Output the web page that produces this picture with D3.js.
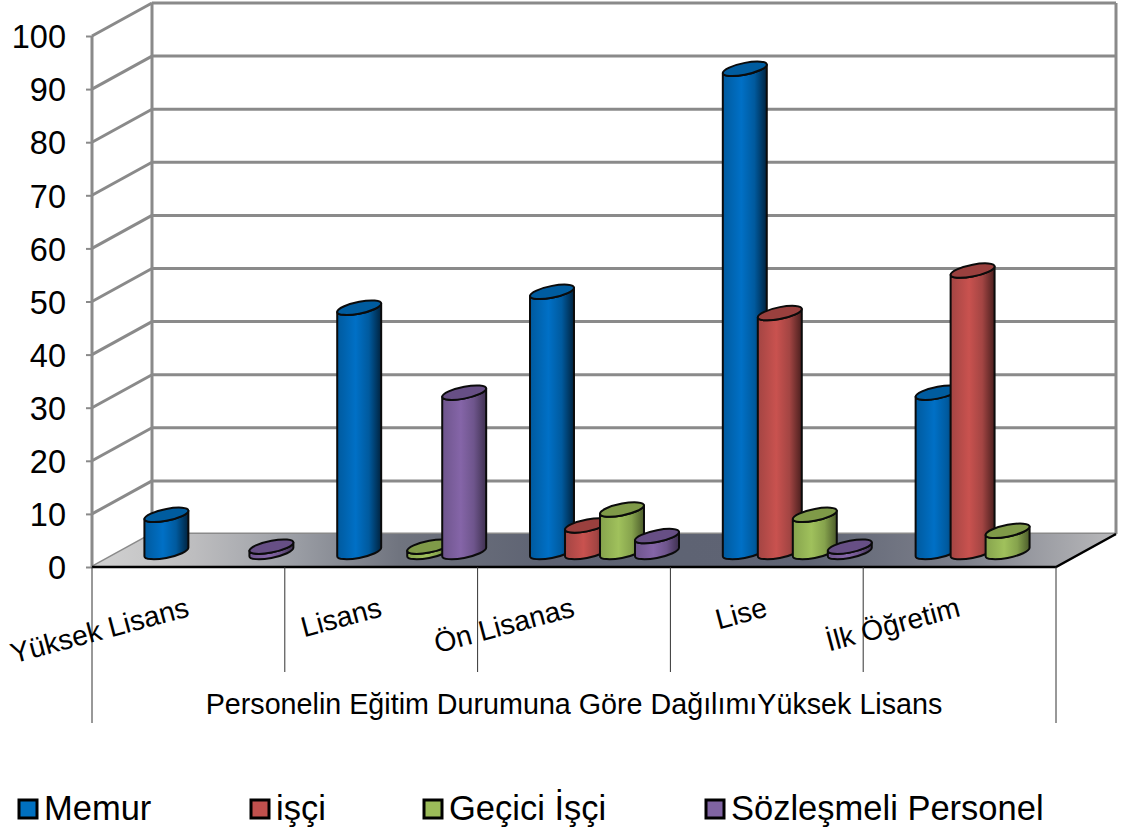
<!DOCTYPE html>
<html lang="tr">
<head>
<meta charset="utf-8">
<script src="https://cdn.jsdelivr.net/npm/d3@7"></script>
<style>
  html, body { margin: 0; padding: 0; background: #fff; }
  svg { display: block; }
  text { font-family: "Liberation Sans", Arial, sans-serif; fill: #000; }
</style>
</head>
<body>
<svg id="chart" width="1121" height="833"></svg>
<script>
// Education levels and staff groups
const categories = ["Yüksek Lisans", "Lisans", "Ön Lisanas", "Lise", "İlk Öğretim"];
const seriesNames = ["Memur", "işçi", "Geçici İşçi", "Sözleşmeli Personel"];
const memur = [7, 46, 49, 91, 30];
const isci = [0, 0, 5, 45, 53];
const gecici = [0, 1, 8, 7, 4];
const sozlesmeli = [1, 30, 3, 1, 0];
const seriesValues = [memur, isci, gecici, sozlesmeli];
const yTicks = [0, 10, 20, 30, 40, 50, 60, 70, 80, 90, 100];
const axisTitle = "Personelin Eğitim Durumuna Göre DağılımıYüksek Lisans";

const legendColors = ["#0070c0", "#c0504d", "#9bbb59", "#8064a2"];
const palettes = [
  { edge: "#005a9e", mid: "#0070c6", dark: "#00233f", top: "#005c9f" },
  { edge: "#a34543", mid: "#c9524f", dark: "#4a1f1e", top: "#9a403e" },
  { edge: "#86a34d", mid: "#a0c15c", dark: "#4c5c2b", top: "#7f9a48" },
  { edge: "#6e558c", mid: "#8565a8", dark: "#3f3150", top: "#674f85" }
];

// Chart frame: front plane, depth offset of the back wall
const left = 92, right = 1056, floorY = 567, topY = 36;
const depthX = 60, depthY = -33;

const svg = d3.select("#chart");
const x = d3.scaleBand().domain(categories).range([left, right]);
const y = d3.scaleLinear().domain([0, 100]).range([floorY, topY]);
const seriesX = d3.scaleBand().domain(seriesNames).range([-39.5, 100.5]);

const defs = svg.append("defs");
const floorGrad = defs.append("linearGradient").attr("id", "floor")
  .attr("gradientUnits", "userSpaceOnUse")
  .attr("x1", 92).attr("y1", 0).attr("x2", 1116).attr("y2", 0);
[[0, "#d2d2d2"], [0.1, "#bdbdbf"], [0.2, "#9a9da4"], [0.3, "#70747f"], [0.45, "#5d6272"], [0.7, "#5f6474"],
 [0.85, "#7d808b"], [1, "#b9b9bb"]].forEach(([o, c]) =>
  floorGrad.append("stop").attr("offset", o).attr("stop-color", c));

palettes.forEach((p, i) => {
  const g = defs.append("linearGradient").attr("id", "side" + i)
    .attr("x1", 0).attr("y1", 0).attr("x2", 1).attr("y2", 0);
  [[0, p.edge], [0.42, p.mid], [0.72, p.edge], [1, p.dark]].forEach(([o, c]) =>
    g.append("stop").attr("offset", o).attr("stop-color", c));
});

// Walls
const wallColor = "#8a8a8a";
const walls = svg.append("g").attr("fill", "none").attr("stroke", wallColor).attr("stroke-width", 3);
walls.selectAll("line.back").data(yTicks).join("line").attr("class", "back")
  .attr("x1", left + depthX).attr("x2", right + depthX)
  .attr("y1", d => y(d) + depthY).attr("y2", d => y(d) + depthY);
walls.selectAll("line.side").data(yTicks).join("line").attr("class", "side")
  .attr("x1", left).attr("x2", left + depthX)
  .attr("y1", d => y(d)).attr("y2", d => y(d) + depthY);
[[left, y(0), left, y(100)], [left + depthX, y(0) + depthY, left + depthX, y(100) + depthY],
 [right + depthX, y(0) + depthY, right + depthX, y(100) + depthY]].forEach(([a, b, c, e]) =>
  walls.append("line").attr("x1", a).attr("y1", b).attr("x2", c).attr("y2", e));

// Floor
svg.append("path")
  .attr("d", d3.line()([[left, floorY], [left + depthX, floorY + depthY], [right + depthX, floorY + depthY], [right, floorY]]) + "Z")
  .attr("fill", "url(#floor)");
svg.append("path")
  .attr("d", d3.line()([[left, floorY], [right, floorY], [right + depthX, floorY + depthY]]))
  .attr("fill", "none").attr("stroke", "#000").attr("stroke-width", 2.5);

// Value axis
const yAxis = svg.append("g").attr("transform", `translate(${left},0)`)
  .call(d3.axisLeft(y).tickValues(yTicks).tickSize(6).tickPadding(20));
yAxis.select(".domain").remove();
yAxis.selectAll(".tick line").attr("stroke", wallColor).attr("stroke-width", 2);
yAxis.selectAll(".tick text").attr("font-size", 32.5).attr("dy", "0.36em")
  .style("font-family", '"Liberation Sans", Arial, sans-serif');

// Category separators and labels
const bounds = d3.range(categories.length + 1).map(i => left + i * x.bandwidth());
svg.append("g").attr("stroke", "#333").attr("stroke-width", 1)
  .selectAll("line").data(bounds).join("line")
  .attr("x1", d => d).attr("x2", d => d).attr("y1", floorY)
  .attr("y2", (d, i) => (i === 0 || i === categories.length) ? 723 : 672);

svg.append("g").selectAll("text").data(categories).join("text")
  .attr("text-anchor", "end").attr("font-size", 28.4)
  .attr("transform", d => `translate(${x(d) + x.bandwidth() / 2 + 2},616) rotate(-15)`)
  .text(d => d);

svg.append("text").attr("x", 574).attr("y", 714)
  .attr("text-anchor", "middle").attr("font-size", 28.7).text(axisTitle);

// Cylinder shape: vertical sides tangent to a tilted ellipse
const rx = 22.4, ry = 5.8, tilt = -11.5, tiltRad = tilt * Math.PI / 180;
const halfW = Math.hypot(rx * Math.cos(tiltRad), ry * Math.sin(tiltRad));
const edgeDy = (rx * rx - ry * ry) * Math.sin(tiltRad) * Math.cos(tiltRad) / halfW;
const baseOffset = -15;

const arc = (sweep, large, ex, ey) => `A${rx},${ry} ${tilt} ${large} ${sweep} ${ex},${ey}`;
function sidePath(cx, yTop, yBase) {
  return `M${cx - halfW},${yTop - edgeDy}` +
    `L${cx - halfW},${yBase - edgeDy}` +
    arc(0, 1, cx + halfW, yBase + edgeDy) +
    `L${cx + halfW},${yTop + edgeDy}` +
    arc(1, 1, cx - halfW, yTop - edgeDy) + "Z";
}
function topPath(cx, yTop) {
  return `M${cx - halfW},${yTop - edgeDy}` +
    arc(1, 1, cx + halfW, yTop + edgeDy) +
    arc(1, 1, cx - halfW, yTop - edgeDy) + "Z";
}

const bars = svg.append("g");
categories.forEach((cat, c) => {
  seriesNames.forEach((name, s) => {
    const v = seriesValues[s][c];
    if (!v) return;
    const cx = x(cat) + x.bandwidth() / 2 + seriesX(name) + seriesX.bandwidth() / 2;
    const yTop = y(v) + baseOffset, yBase = y(0) + baseOffset;
    const g = bars.append("g").attr("stroke", "#0b0b0b").attr("stroke-width", 2).attr("stroke-linejoin", "round");
    g.append("path").attr("d", sidePath(cx, yTop, yBase)).attr("fill", `url(#side${s})`);
    g.append("path").attr("d", topPath(cx, yTop)).attr("fill", palettes[s].top);
  });
});

// Legend
const legendX = [19, 251, 424, 706];
const legend = svg.append("g").selectAll("g").data(seriesNames).join("g")
  .attr("transform", (d, i) => `translate(${legendX[i]},800)`);
legend.append("rect").attr("width", 18).attr("height", 18)
  .attr("fill", (d, i) => legendColors[i])
  .attr("stroke", "#000").attr("stroke-width", 3);
legend.append("text").attr("x", 25).attr("y", 20).attr("font-size", 34.5).text(d => d);
</script>
</body>
</html>
